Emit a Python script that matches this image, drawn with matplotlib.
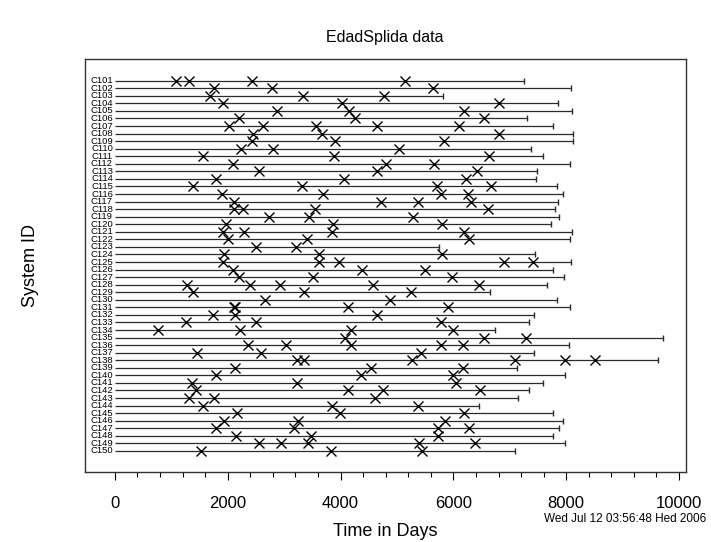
import matplotlib.pyplot as plt

plt.rcParams['font.family'] = ['Liberation Sans', 'DejaVu Sans']

systems = ['C%d' % n for n in range(101, 151)]

end_times = [7247, 8080, 5821, 7849, 8109, 7305, 7772, 8115, 8115, 7376,
             7589, 8073, 7482, 7459, 7830, 7949, 7849, 7794, 7878, 7730,
             8096, 8073, 5745, 7453, 8091, 7760, 7967, 7654, 6649, 7830,
             8073, 7429, 7340, 6732, 9711, 8050, 7423, 9633, 7133, 7984,
             7594, 7334, 7140, 6454, 7772, 7943, 7878, 7760, 7979, 7087]

events = [
    [1082, 1312, 2424, 5142],
    [1761, 2789, 5633],
    [1684, 3328, 4775],
    [1920, 4031, 6803],
    [2878, 4143, 6182],
    [2205, 4261, 6543],
    [2015, 2624, 3564, 4640, 6094],
    [2453, 3676, 6809],
    [2429, 3901, 5833],
    [2228, 2807, 5035],
    [1554, 3889, 6625],
    [2086, 4805, 5656],
    [2559, 4640, 6424],
    [1785, 4066, 6223],
    [1377, 3310, 5703, 6661],
    [1891, 3682, 5786, 6259],
    [2104, 4710, 5367, 6307],
    [2110, 2264, 3552, 6608],
    [2736, 3446, 5278],
    [1974, 3871, 5798],
    [1909, 2293, 3842, 6194],
    [2004, 3398, 6277],
    [2500, 3209],
    [1933, 3611, 5792],
    [1909, 3611, 3972, 6892, 7411],
    [2086, 4379, 5496],
    [2193, 3517, 5981],
    [1282, 2399, 2931, 4580, 6460],
    [1389, 3351, 5242],
    [2660, 4876],
    [2110, 2130, 4125, 5910],
    [1732, 2128, 4645],
    [1259, 2500, 5780],
    [757, 2216, 4178, 5987],
    [4078, 6543, 7287],
    [2352, 3037, 4178, 5780, 6176],
    [1448, 2583, 5426],
    [3221, 3351, 5272, 7098, 7979, 8516],
    [2133, 4539, 6165],
    [1791, 4356, 5999],
    [1359, 3221, 6040],
    [1430, 4125, 4746, 6472],
    [1318, 1761, 4604],
    [1554, 3853, 5378],
    [2163, 3989, 6182],
    [1939, 3251, 5851],
    [1791, 3168, 5733, 6277],
    [2145, 3481, 5721],
    [2559, 2943, 3428, 5396, 6377],
    [1519, 3830, 5443],
]

xticks = [0, 2000, 4000, 6000, 8000, 10000]

fig = plt.figure(figsize=(7.11, 5.42), dpi=100)
ax = fig.add_axes([0.1195, 0.129, 0.8455, 0.7625])

line_col = '#2a2a2a'
for i, (sysid, end, ev) in enumerate(zip(systems, end_times, events)):
    ax.hlines(i, 0, end, color=line_col, lw=0.9)
    ax.plot([end], [i], marker='|', ms=4, mew=1.0, color=line_col)
    ax.plot(ev, [i] * len(ev), linestyle='none', marker='x', ms=6.5,
            mew=1.0, color='black')
    ax.text(-35, i, sysid, ha='right', va='center', fontsize=6.8)

ax.set_xlim(-530, 10125)
ax.set_ylim(51.8, -2.9)
ax.set_yticks([])
ax.set_xticks(xticks)
ax.set_xticklabels([str(v) for v in xticks], fontsize=12)
ax.set_xticks(range(0, 10001, 400), minor=True)
ax.tick_params(axis='x', which='major', direction='out', length=6, width=0.8, pad=11)
ax.tick_params(axis='x', which='minor', direction='out', length=3.5, width=0.8)
for sp in ax.spines.values():
    sp.set_linewidth(1.0)
    sp.set_color('#333333')

ax.set_xlabel('Time in Days', fontsize=13, labelpad=9)
ax.set_ylabel('System ID', fontsize=13, labelpad=33)
fig.text(0.541, 0.931, 'EdadSplida data', ha='center', va='center', fontsize=11.5)
fig.text(0.993, 0.043, 'Wed Jul 12 03:56:48 Hed 2006', ha='right', va='center',
         fontsize=8.5)

fig.savefig('out.png', dpi=100)
